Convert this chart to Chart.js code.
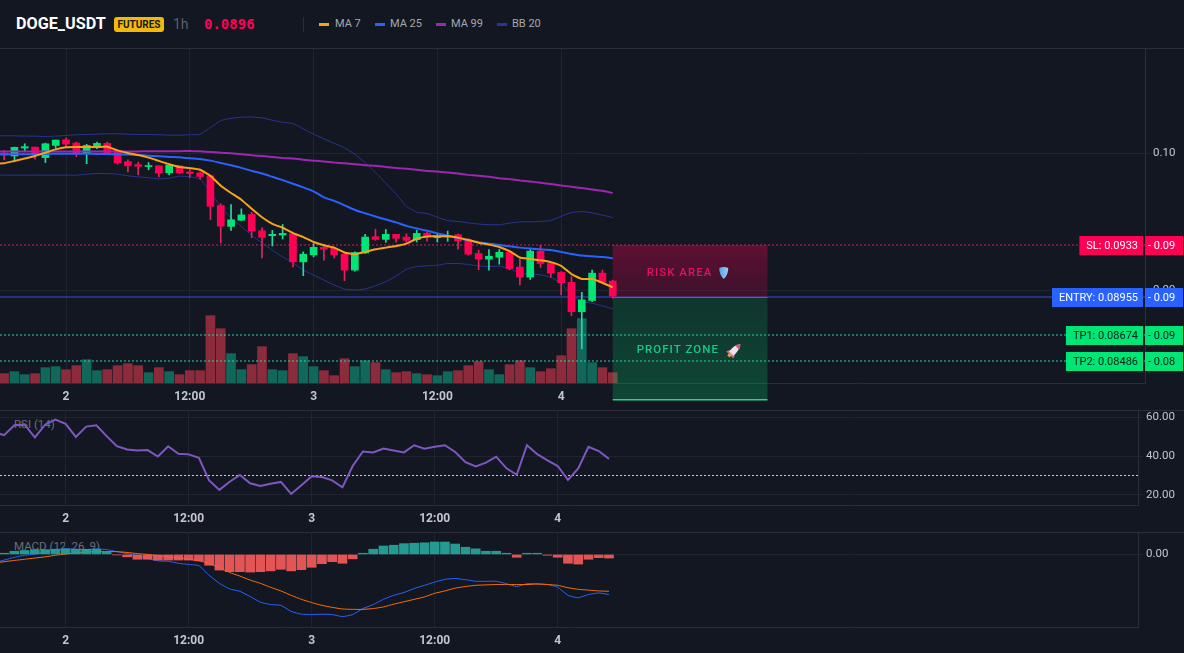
<!DOCTYPE html>
<html>
<head>
<meta charset="utf-8">
<title>DOGE_USDT 1h</title>
<script src="https://cdn.jsdelivr.net/npm/chart.js@4/dist/chart.umd.js"></script>
<style>
  html, body { margin: 0; padding: 0; background: #131722; overflow: hidden; }
  body { width: 1184px; height: 653px; position: relative; font-family: Roboto, sans-serif; color: #9598a1; }
  #header span, #header i { position: absolute; white-space: nowrap; }
  #header { position: absolute; left: 0; top: 0; width: 1184px; height: 48px; border-bottom: 1px solid #2a2e39; box-sizing: content-box; }
  .sym { left: 16px; top: 14px; font-size: 16.2px; font-weight: 700; color: #fff; }
  .badge { left: 114px; top: 17px; width: 50px; height: 15px; line-height: 15px; text-align: center; background: #f0b90b; color: #1a1a1a; border-radius: 3px; font-size: 10px; font-weight: 700; }
  .tf { left: 173px; top: 16px; font-size: 14px; color: #5b5f6b; }
  .last { left: 204px; top: 16px; font: bold 14px "DejaVu Sans Mono", monospace; color: #ff0055; }
  .sep { left: 303px; top: 17px; width: 1px; height: 15px; background: #2a2e39; }
  .sw { top: 23px; width: 10px; height: 3px; }
  .lg { top: 17px; font-size: 11px; color: #a4a7b0; }
  .pane { position: absolute; left: 0; }
  .pane canvas { position: absolute; left: 0; top: 0; }
  .pane-title { position: absolute; left: 14px; font-size: 11.5px; color: #6b6f7b; white-space: nowrap; }
  .rule { position: absolute; left: 0; width: 1184px; height: 1px; background: #2a2e39; }
</style>
</head>
<body>
<div id="header">
  <span class="sym">DOGE_USDT</span>
  <span class="badge">FUTURES</span>
  <span class="tf">1h</span>
  <span class="last">0.0896</span>
  <i class="sep"></i>
  <i class="sw" style="left:319px;background:#f7a21b"></i><span class="lg" style="left:335px">MA 7</span>
  <i class="sw" style="left:375px;background:#2962ff"></i><span class="lg" style="left:390px">MA 25</span>
  <i class="sw" style="left:436px;background:#9c27b0"></i><span class="lg" style="left:451px">MA 99</span>
  <i class="sw" style="left:497px;background:#283593"></i><span class="lg" style="left:512px">BB 20</span>
</div>

<div class="pane" style="top:49px"><canvas id="mainChart" width="1184" height="361"></canvas></div>
<div class="rule" style="top:410px"></div>
<div class="pane" style="top:410px">
  <span class="pane-title" style="top:7px">RSI (14)</span>
  <canvas id="rsiChart" width="1184" height="122"></canvas>
</div>
<div class="rule" style="top:532px"></div>
<div class="pane" style="top:532px">
  <span class="pane-title" style="top:7px">MACD (12, 26, 9)</span>
  <canvas id="macdChart" width="1184" height="121"></canvas>
</div>

<script>
// hours relative to the start of day 4
const hours = [-55,-54,-53,-52,-51,-50,-49,-48,-47,-46,-45,-44,-43,-42,-41,-40,-39,-38,-37,-36,-35,
  -34,-33,-32,-31,-30,-29,-28,-27,-26,-25,-24,-23,-22,-21,-20,-19,-18,-17,-16,-15,
  -14,-13,-12,-11,-10,-9,-8,-7,-6,-5,-4,-3,-2,-1,0,1,2,3,4,5];

const opens = [.09998,
  .10004,.09982,.10040,.10047,.09970,.10059,.10100,.10076,.09999,.10057,
  .10074,.10023,.09941,.09919,.09905,.09910,.09859,.09910,.09866,.09859,
  .09837,.09620,.09468,.09513,.09555,.09436,.09400,.09405,.09414,.09209,
  .09260,.09315,.09308,.09265,.09149,.09274,.09393,.09373,.09410,.09390,
  .09371,.09417,.09386,.09390,.09407,.09369,.09270,.09229,.09243,.09279,
  .09171,.09098,.09287,.09197,.09132,.09060,.08845,.08927,.09127,.09069];
const highs = [.10010,
  .10023,.10047,.10071,.10047,.10076,.10098,.10115,.10083,.10067,.10083,
  .10083,.10023,.09953,.09936,.09934,.09910,.09922,.09910,.09881,.09864,
  .09842,.09632,.09627,.09596,.09571,.09458,.09439,.09482,.09424,.09282,
  .09342,.09330,.09318,.09274,.09282,.09410,.09446,.09446,.09410,.09414,
  .09439,.09424,.09419,.09434,.09414,.09378,.09294,.09299,.09299,.09289,
  .09233,.09299,.09330,.09207,.09139,.09101,.08987,.09149,.09149,.09076];
const lows = [.09975,
  .09953,.09953,.10013,.09958,.09934,.10038,.10047,.09977,.09926,.10035,
  .10001,.09922,.09866,.09844,.09881,.09830,.09844,.09854,.09825,.09813,
  .09518,.09347,.09439,.09511,.09386,.09238,.09325,.09376,.09173,.09108,
  .09245,.09221,.09238,.09072,.09142,.09270,.09366,.09352,.09352,.09352,
  .09354,.09361,.09354,.09359,.09301,.09258,.09151,.09149,.09192,.09151,
  .09040,.09081,.09168,.09096,.08968,.08816,.08574,.08919,.09052,.08944];
const closes = [.09985,
  .09989,.10045,.10050,.09987,.10071,.10098,.10069,.10006,.10059,.10074,
  .10006,.09931,.09910,.09907,.09912,.09857,.09917,.09859,.09854,.09832,
  .09615,.09470,.09516,.09552,.09434,.09388,.09410,.09417,.09209,.09265,
  .09315,.09301,.09260,.09149,.09277,.09390,.09373,.09410,.09381,.09366,
  .09417,.09390,.09400,.09398,.09361,.09265,.09229,.09250,.09279,.09161,
  .09098,.09287,.09197,.09127,.09057,.08845,.08932,.09127,.09060,.08960];
const volumes = [24,
  28,34,25,28,46,49,40,52,70,37,
  40,52,58,52,31,46,34,25,37,37,
  202,163,88,40,55,109,40,37,88,79,
  49,37,22,73,49,67,61,40,31,34,
  28,25,22,34,37,52,64,40,25,55,
  67,46,34,43,82,163,193,61,46,31];

const ma7 = [.09926,
  .09929,.09946,.09963,.09982,.10006,.10030,.10045,.10047,.10047,.10047,
  .10050,.10023,.10004,.09989,.09970,.09946,.09922,.09902,.09893,.09881,
  .09837,.09765,.09712,.09663,.09596,.09535,.09487,.09458,.09419,.09390,
  .09354,.09330,.09313,.09277,.09265,.09282,.09301,.09313,.09325,.09342,
  .09378,.09395,.09395,.09398,.09386,.09369,.09349,.09335,.09318,.09287,
  .09241,.09231,.09221,.09207,.09180,.09120,.09084,.09084,.09057,.09023];
const ma25 = [.09994,
  .09994,.09994,.09994,.09996,.09996,.09999,.09999,.09999,.09999,.09996,
  .09996,.09994,.09992,.09989,.09984,.09980,.09975,.09972,.09965,.09960,
  .09948,.09931,.09914,.09895,.09873,.09854,.09830,.09806,.09779,.09753,
  .09724,.09680,.09654,.09622,.09588,.09564,.09540,.09518,.09497,.09472,
  .09453,.09436,.09417,.09400,.09383,.09366,.09352,.09342,.09332,.09323,
  .09313,.09306,.09301,.09296,.09282,.09267,.09255,.09250,.09245,.09236];
const ma99 = [.10014,
  .10014,.10014,.10014,.10014,.10014,.10014,.10014,.10014,.10014,.10015,
  .10015,.10015,.10015,.10015,.10017,.10017,.10017,.10017,.10018,.10016,
  .10011,.10006,.10001,.09994,.09987,.09982,.09975,.09968,.09963,.09955,
  .09948,.09941,.09934,.09929,.09922,.09914,.09910,.09902,.09895,.09888,
  .09881,.09873,.09869,.09861,.09854,.09844,.09837,.09830,.09820,.09813,
  .09803,.09796,.09786,.09777,.09767,.09757,.09748,.09738,.09728,.09711];
const bbUpper = [.10129,
  .10129,.10129,.10127,.10127,.10124,.10127,.10132,.10137,.10139,.10141,
  .10144,.10144,.10141,.10139,.10139,.10137,.10134,.10134,.10137,.10141,
  .10190,.10240,.10257,.10265,.10267,.10260,.10243,.10228,.10219,.10180,
  .10141,.10108,.10074,.10042,.09994,.09934,.09861,.09784,.09704,.09615,
  .09572,.09562,.09535,.09511,.09504,.09494,.09485,.09480,.09480,.09492,
  .09501,.09501,.09504,.09511,.09542,.09569,.09576,.09567,.09550,.09533];
const bbLower = [.09842,
  .09842,.09842,.09842,.09842,.09842,.09842,.09842,.09842,.09849,.09854,
  .09854,.09849,.09837,.09830,.09823,.09815,.09820,.09835,.09830,.09813,
  .09716,.09613,.09530,.09468,.09402,.09347,.09294,.09245,.09202,.09149,
  .09113,.09076,.09040,.09011,.09004,.09011,.09035,.09064,.09105,.09156,
  .09175,.09180,.09185,.09197,.09197,.09190,.09180,.09175,.09178,.09159,
  .09125,.09120,.09115,.09096,.09052,.08968,.08919,.08907,.08888,.08866];

const rsi = [52.5,
  50.8,55.9,56.2,49.7,56.2,58.8,56.6,49.9,55.2,55.9,
  50.3,45.1,43.4,42.9,43.1,39.8,45.1,41.2,40.9,39.1,
  27.5,22.6,26.8,30.3,26.0,24.6,25.8,26.7,20.5,25.0,
  29.6,29.2,27.5,23.9,34.9,42.4,41.9,43.9,42.9,41.9,
  45.6,43.8,44.8,45.6,42.1,36.9,34.7,36.6,39.7,33.7,
  30.4,45.6,41.0,37.8,34.9,27.7,33.7,44.8,42.6,38.6];

const macdHist = [.00002,
  .00003,.00008,.00010,.00012,.00012,.00013,.00014,.00013,.00013,.00013,
  .00007,-.00001,-.00006,-.00012,-.00012,-.00014,-.00014,-.00014,-.00014,-.00016,
  -.00027,-.00039,-.00043,-.00043,-.00044,-.00043,-.00041,-.00037,-.00041,-.00038,
  -.00032,-.00023,-.00018,-.00022,-.00011,.00003,.00013,.00021,.00023,.00027,
  .00028,.00029,.00031,.00031,.00026,.00018,.00014,.00008,.00008,.00003,
  -.00007,.00003,.00003,-.00002,-.00007,-.00022,-.00024,-.00012,-.00008,-.00009];
const macdLine = [-.00021,
  -.00014,-.00007,-.00002,.00001,.00006,.00012,.00014,.00013,.00012,.00014,
  .00012,.00007,.00002,-.00003,-.00010,-.00016,-.00017,-.00022,-.00025,-.00028,
  -.00052,-.00072,-.00086,-.00092,-.00105,-.00119,-.00125,-.00127,-.00142,-.00149,
  -.00150,-.00149,-.00150,-.00155,-.00150,-.00135,-.00125,-.00112,-.00102,-.00095,
  -.00085,-.00077,-.00069,-.00062,-.00060,-.00063,-.00067,-.00067,-.00067,-.00073,
  -.00080,-.00073,-.00073,-.00075,-.00082,-.00102,-.00108,-.00100,-.00096,-.00100];
const macdSignal = [-.00022,
  -.00018,-.00015,-.00012,-.00009,-.00006,-.00002,.00001,.00004,.00006,.00007,
  .00007,.00007,.00005,.00002,0,-.00003,-.00006,-.00008,-.00012,-.00016,
  -.00022,-.00033,-.00045,-.00054,-.00064,-.00072,-.00082,-.00091,-.00102,-.00112,
  -.00120,-.00127,-.00132,-.00136,-.00137,-.00137,-.00135,-.00131,-.00124,-.00118,
  -.00112,-.00106,-.00097,-.00091,-.00084,-.00080,-.00077,-.00076,-.00075,-.00075,
  -.00075,-.00075,-.00074,-.00075,-.00077,-.00083,-.00087,-.00089,-.00091,-.00092];

const timeTicks = [-48, -36, -24, -12, 0];
const timeLabels = ['2', '12:00', '3', '12:00', '4'];
const priceTicks = [0.10, 0.09];
const rsiTicks = [60, 40, 20];
const macdTicks = [0];

const levelNames = ['SL', 'ENTRY', 'TP1', 'TP2'];
const levelPrices = [0.0933, 0.08955, 0.08674, 0.08486];
const levelColors = ['#d81f5c', '#3250d8', '#2ad3a0', '#2ad3a0'];
const zoneStart = 5, zoneEnd = 20, profitFloor = 0.0820;

const UP = '#00e676', DOWN = '#ff0055';
const FONT = 'Roboto, sans-serif';
const gridColor = '#20242f', borderColor = '#2a2e39';
const xMin = -54.4, xMax = 56.6;
const isUp = i => closes[i] >= opens[i];

const series = values => hours.map((h, i) => ({ x: h, y: values[i] }));
const lineSet = (values, color, width, order, extra) => Object.assign({
  type: 'line', data: series(values), borderColor: color, borderWidth: width,
  pointRadius: 0, tension: 0.15, order, yAxisID: 'y'
}, extra);
const barSet = (data, color, thickness, order, yAxisID) => ({
  type: 'bar', data, backgroundColor: color, borderWidth: 0, grouped: false,
  barPercentage: 1, categoryPercentage: 1, maxBarThickness: thickness, order, yAxisID
});

function timeAxis(height) {
  return {
    type: 'linear', min: xMin, max: xMax, offset: false,
    afterBuildTicks: s => { s.ticks = timeTicks.map(v => ({ value: v })); },
    afterFit: s => { s.height = height; s.paddingLeft = 0; s.paddingRight = 0; },
    grid: { color: gridColor, offset: false, tickLength: 0 },
    border: { color: borderColor },
    ticks: {
      color: '#c3c6ce', autoSkip: false, maxRotation: 0, padding: 7,
      font: { family: FONT, size: 12, weight: '700' },
      callback: v => timeLabels[timeTicks.indexOf(v)]
    }
  };
}

function valueAxis(min, max, tickValues, digits, width) {
  return {
    position: 'right', min, max,
    afterBuildTicks: s => { s.ticks = tickValues.map(v => ({ value: v })); },
    // no room reserved for the tick labels above and below the plot
    afterFit: s => { s.width = width; s.paddingTop = 0; s.paddingBottom = 0; },
    grid: { color: gridColor, tickLength: 5 },
    border: { color: borderColor },
    ticks: {
      color: '#c3c6ce', padding: 3,
      font: { family: FONT, size: 11.5 },
      callback: v => v.toFixed(digits)
    }
  };
}

// the SL, entry and target lines sit just above the volume bars
const levelLinesPlugin = {
  id: 'levelLines',
  afterDatasetDraw(chart, args) {
    if (args.index !== 0) return;
    const { ctx, chartArea, scales: { y } } = chart;
    ctx.save();
    ctx.lineWidth = 1.1;
    levelPrices.forEach((price, i) => {
      const py = Math.round(y.getPixelForValue(price));
      ctx.strokeStyle = levelColors[i];
      ctx.setLineDash(levelNames[i] === 'ENTRY' ? [] : [2, 2]);
      ctx.beginPath();
      ctx.moveTo(chartArea.left, py);
      ctx.lineTo(chartArea.right, py);
      ctx.stroke();
    });
    ctx.restore();
  }
};

// risk and profit boxes, drawn over the candles, plus the price tags on the axis
const overlayPlugin = {
  id: 'overlay',
  afterDatasetsDraw(chart) {
    const { ctx, scales: { x, y } } = chart;
    const left = x.getPixelForValue(zoneStart), right = x.getPixelForValue(zoneEnd);
    const slY = Math.round(y.getPixelForValue(levelPrices[0]));
    const entryY = Math.round(y.getPixelForValue(levelPrices[1]));
    const floorY = Math.round(y.getPixelForValue(profitFloor));
    ctx.save();

    let fill = ctx.createLinearGradient(0, slY, 0, entryY);
    fill.addColorStop(0, 'rgba(255,0,85,0.33)');
    fill.addColorStop(1, 'rgba(255,0,85,0.17)');
    ctx.fillStyle = fill;
    ctx.fillRect(left, slY, right - left, entryY - slY);

    fill = ctx.createLinearGradient(0, entryY, 0, floorY);
    fill.addColorStop(0, 'rgba(0,230,118,0.15)');
    fill.addColorStop(1, 'rgba(0,230,118,0.23)');
    ctx.fillStyle = fill;
    ctx.fillRect(left, entryY, right - left, floorY - entryY);

    ctx.fillStyle = '#d92a6a';
    ctx.fillRect(left, entryY, right - left, 1);
    ctx.fillStyle = '#2bd48a';
    ctx.fillRect(left, floorY - 1, right - left, 1.5);

    ctx.font = `500 11.5px ${FONT}`;
    ctx.textAlign = 'left';
    ctx.textBaseline = 'middle';
    ctx.letterSpacing = '1px';
    ctx.fillStyle = '#e0145a';
    ctx.fillText('RISK AREA', left + 34, slY + 28);
    ctx.fillStyle = '#19c982';
    ctx.fillText('PROFIT ZONE', left + 24, entryY + 53);
    ctx.letterSpacing = '0px';

    drawShield(ctx, left + 111, slY + 28);
    drawRocket(ctx, left + 122, entryY + 53);

    levelNames.forEach((name, i) => drawTag(chart, name, levelPrices[i]));
    ctx.restore();
  }
};

function drawShield(ctx, cx, cy) {
  const g = ctx.createLinearGradient(cx - 5, 0, cx + 5, 0);
  g.addColorStop(0, '#4f9fe8');
  g.addColorStop(1, '#9ed2f7');
  ctx.fillStyle = g;
  ctx.beginPath();
  ctx.moveTo(cx - 4.5, cy - 5);
  ctx.quadraticCurveTo(cx, cy - 7, cx + 4.5, cy - 5);
  ctx.quadraticCurveTo(cx + 4.5, cy + 2, cx, cy + 6);
  ctx.quadraticCurveTo(cx - 4.5, cy + 2, cx - 4.5, cy - 5);
  ctx.fill();
}

function drawRocket(ctx, cx, cy) {
  ctx.save();
  ctx.translate(cx, cy);
  ctx.rotate(Math.PI / 4);
  ctx.fillStyle = '#d9647f';
  ctx.beginPath();
  ctx.moveTo(-3.5, 3); ctx.lineTo(-5, 7); ctx.lineTo(5, 7); ctx.lineTo(3.5, 3);
  ctx.fill();
  ctx.fillStyle = '#e8e4ea';
  ctx.beginPath();
  ctx.moveTo(0, -8);
  ctx.quadraticCurveTo(4, -3, 3, 5);
  ctx.lineTo(-3, 5);
  ctx.quadraticCurveTo(-4, -3, 0, -8);
  ctx.fill();
  ctx.fillStyle = '#e0507c';
  ctx.beginPath();
  ctx.moveTo(0, -8);
  ctx.quadraticCurveTo(2.4, -5.5, 3, -3.5);
  ctx.lineTo(-3, -3.5);
  ctx.quadraticCurveTo(-2.4, -5.5, 0, -8);
  ctx.fill();
  ctx.fillStyle = '#f2a23c';
  ctx.fillRect(-1.5, 6, 3, 3);
  ctx.restore();
}

function drawTag(chart, name, price) {
  const { ctx, scales: { y } } = chart;
  const text = `${name}: ${price}`;
  const cy = Math.round(y.getPixelForValue(price));
  const isTp = name.startsWith('TP');
  const bg = name === 'SL' ? DOWN : name === 'ENTRY' ? '#2962ff' : UP;
  ctx.font = `11px ${FONT}`;
  const w = ctx.measureText(text).width + 12;
  ctx.fillStyle = bg;
  ctx.fillRect(1143 - w, cy - 9, w, 19);
  ctx.fillRect(1145, cy - 9, 38, 19);
  ctx.fillStyle = isTp ? '#0b1d16' : '#ffffff';
  ctx.textBaseline = 'middle';
  ctx.textAlign = 'right';
  ctx.fillText(text, 1138, cy + 1);
  ctx.textAlign = 'left';
  ctx.fillText(`- ${price.toFixed(2)}`, 1148, cy + 1);
}

const candleBodies = hours.map((h, i) => ({ x: h, y: [opens[i], closes[i]] }));
const candleWicks = hours.map((h, i) => ({ x: h, y: [lows[i], highs[i]] }));
const volumeBars = series(volumes);

new Chart(document.getElementById('mainChart'), {
  data: {
    datasets: [
      barSet(volumeBars, hours.map((h, i) => isUp(i) ? '#11685a' : '#8b2b3b'), 9, 10, 'yVol'),
      lineSet(bbUpper, '#283593', 1, 8),
      lineSet(bbLower, '#283593', 1, 8),
      barSet(candleWicks, hours.map((h, i) => isUp(i) ? '#26d9a0' : '#e0245e'), 1, 7, 'y'),
      barSet(candleBodies, hours.map((h, i) => isUp(i) ? UP : DOWN), 7, 6, 'y'),
      lineSet(ma99, '#9c27b0', 2, 5),
      lineSet(ma25, '#2962ff', 2, 4),
      lineSet(ma7, '#f7a21b', 2, 3)
    ]
  },
  options: {
    responsive: false, animation: false, events: [],
    layout: { padding: 0 },
    plugins: { legend: { display: false }, tooltip: { enabled: false } },
    scales: {
      x: timeAxis(27),
      y: valueAxis(0.083249, 0.107628, priceTicks, 2, 39),
      yVol: { display: false, min: 0, max: 1002 }
    }
  },
  plugins: [levelLinesPlugin, overlayPlugin]
});

new Chart(document.getElementById('rsiChart'), {
  data: {
    datasets: [
      lineSet(rsi, '#7e57c2', 2, 1, { tension: 0 }),
      { type: 'line', data: [{ x: xMin, y: 30 }, { x: xMax, y: 30 }], borderColor: '#c9ccd3', borderWidth: 1, borderDash: [2, 2], pointRadius: 0, order: 2, yAxisID: 'y' }
    ]
  },
  options: {
    responsive: false, animation: false, events: [],
    layout: { padding: 0 },
    plugins: { legend: { display: false }, tooltip: { enabled: false } },
    scales: { x: timeAxis(27), y: valueAxis(14.8, 63.77, rsiTicks, 2, 46) }
  }
});

new Chart(document.getElementById('macdChart'), {
  data: {
    datasets: [
      barSet(series(macdHist), macdHist.map(v => v >= 0 ? 'rgba(38,166,154,0.92)' : 'rgba(245,90,90,0.92)'), 9, 1, 'y'),
      lineSet(macdLine, '#2962ff', 1, 3),
      lineSet(macdSignal, '#ff6d00', 1, 2)
    ]
  },
  options: {
    responsive: false, animation: false, events: [],
    layout: { padding: 0 },
    plugins: { legend: { display: false }, tooltip: { enabled: false } },
    scales: { x: timeAxis(26), y: valueAxis(-0.00181, 0.00056, macdTicks, 2, 46) }
  }
});
</script>
</body>
</html>
